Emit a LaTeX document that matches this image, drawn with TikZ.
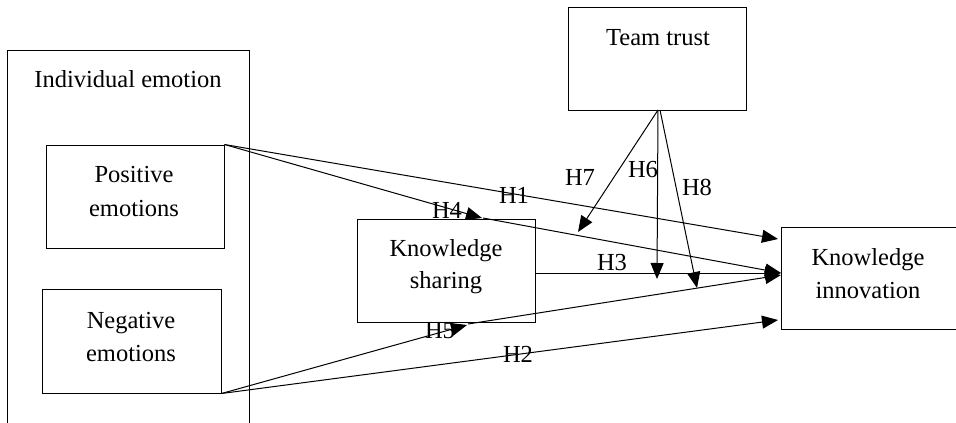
\documentclass[tikz,border=0pt]{standalone}
\usepackage{fontspec}
\setmainfont{Liberation Serif}
\usetikzlibrary{arrows.meta}
\begin{document}
\begin{tikzpicture}[x=1pt,y=-1pt,
  box/.style={draw, line width=1pt, inner sep=0pt},
  lbl/.style={anchor=base, inner sep=0pt, font=\fontsize{24.5}{33}\selectfont},
  conn/.style={line width=1pt, -{Triangle[length=16pt,width=13pt]}},
  plain/.style={line width=1pt}]
\useasboundingbox (0,0) rectangle (956,423);
\clip (0,0) rectangle (956,423);
% boxes
\node[box, minimum width=242pt, minimum height=400pt, anchor=north west] (ind) at (7,50) {};
\node[box, minimum width=178pt, minimum height=103pt] (pos) at (135,196.5) {};
\node[box, minimum width=179pt, minimum height=104pt] (neg) at (131.5,341) {};
\node[box, minimum width=178pt, minimum height=103pt] (tt) at (657,58.5) {};
\node[box, minimum width=178pt, minimum height=103pt] (ks) at (446,270.5) {};
\node[box, minimum width=190pt, minimum height=102pt, anchor=west] (ki) at (781,278) {};
% texts
\node[lbl] (tind) at (128,87) {Individual emotion};
\node[lbl] (tpos1) at (134,182) {Positive};
\node[lbl] (tpos2) at (134,216) {emotions};
\node[lbl] (tneg1) at (131,328) {Negative};
\node[lbl] (tneg2) at (131,361) {emotions};
\node[lbl] (ttt) at (658,45) {Team trust};
\node[lbl] (tks1) at (446,256) {Knowledge};
\node[lbl] (tks2) at (446,288) {sharing};
\node[lbl] (tki1) at (868,265) {Knowledge};
\node[lbl] (tki2) at (868,298) {innovation};
% coordinates
\coordinate (ttb) at (658,110);
\coordinate (ttb2) at (660,110);
\coordinate (h7t) at (578,232);
\coordinate (h6t) at (657,279);
\coordinate (h8t) at (697,288);
\coordinate (h1t) at (778,239);
\coordinate (h4t) at (482,218);
\coordinate (h4s) at (483,218);
\coordinate (ki1) at (781,273);
\coordinate (ks3) at (535,273);
\coordinate (h5t) at (467,325);
\coordinate (h5s) at (468,324);
\coordinate (ki2) at (781,275);
\coordinate (h2t) at (778,320);
% connectors
\draw[conn] (pos.north east) -- (h1t);
\draw[conn] (pos.north east) -- (h4t);
\draw[conn] (h4s) -- (ki1);
\draw[conn] (ks3) -- (ki1);
\draw[conn] (neg.south east) -- (h5t);
\draw[conn] (h5s) -- (ki2);
\draw[conn] (neg.south east) -- (h2t);
\draw[conn] (ttb) -- (h7t);
\draw[conn] (ttb) -- (h6t);
\draw[conn] (ttb2) -- (h8t);
% labels
\node[lbl] (lh1) at (514,203) {H1};
\node[lbl] (lh4) at (447,218) {H4};
\node[lbl] (lh3) at (612,270) {H3};
\node[lbl] (lh5) at (440,338) {H5};
\node[lbl] (lh2) at (518,362) {H2};
\node[lbl] (lh7) at (580,185) {H7};
\node[lbl] (lh6) at (643,177) {H6};
\node[lbl] (lh8) at (697,195) {H8};
\end{tikzpicture}
\end{document}
